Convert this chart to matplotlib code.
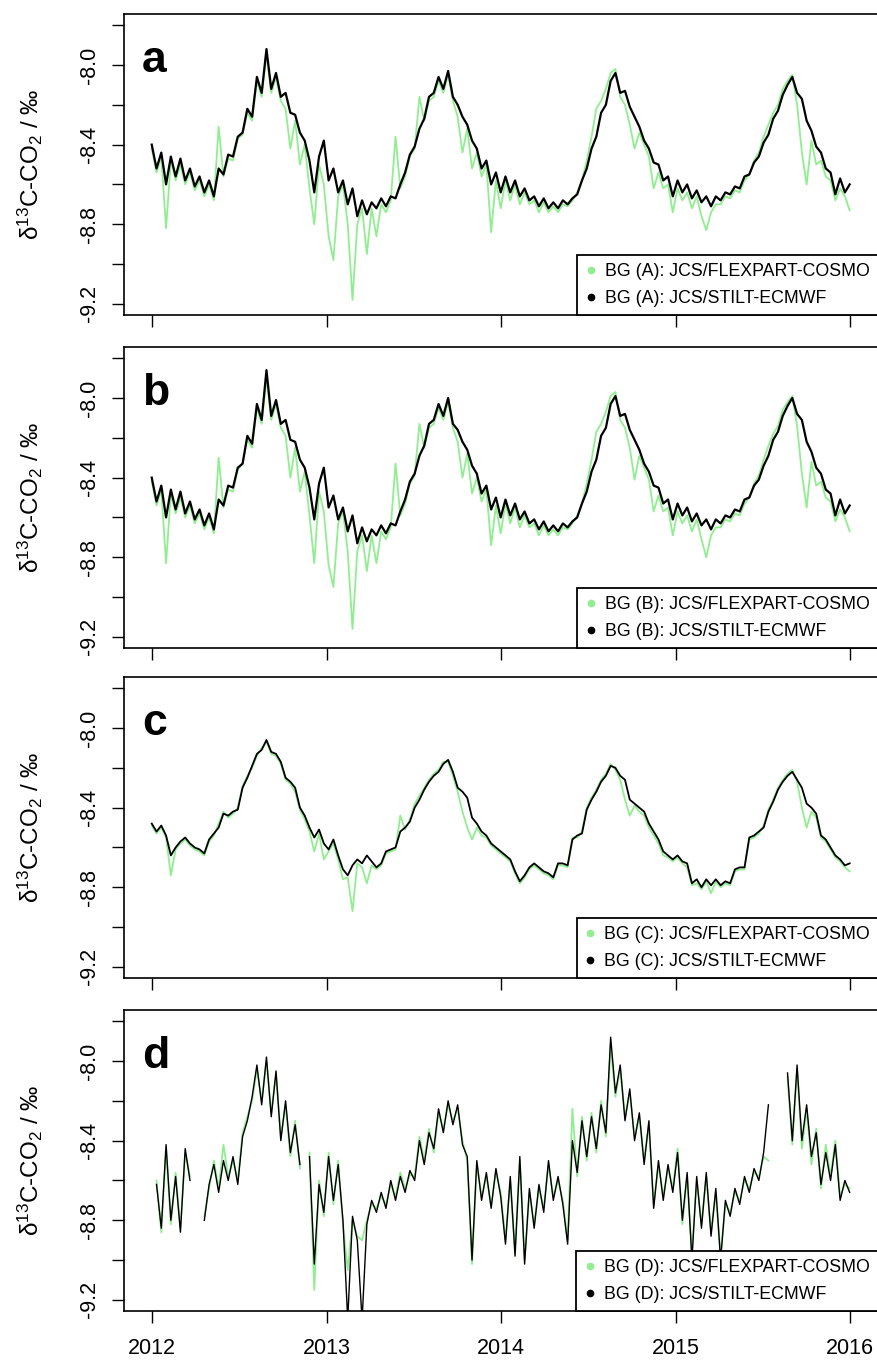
import numpy as np
import pandas as pd
import matplotlib
matplotlib.use("Agg")
import matplotlib.pyplot as plt
from matplotlib.lines import Line2D

plt.rcParams['font.family'] = ['Liberation Sans', 'DejaVu Sans']
plt.rcParams['mathtext.fontset'] = 'custom'
plt.rcParams['mathtext.rm'] = 'Liberation Sans'
plt.rcParams['mathtext.it'] = 'Liberation Sans:italic'

# 10-day samples, 2012-01-01 .. 2016-01-01
dates = pd.date_range('2012-01-01', periods=147, freq='10D')

a_stilt = [-8.40, -8.52, -8.44, -8.60, -8.46, -8.56, -8.47, -8.58, -8.52, -8.61,
           -8.56, -8.64, -8.58, -8.66, -8.52, -8.55, -8.45, -8.46, -8.36, -8.34,
           -8.22, -8.26, -8.06, -8.14, -7.92, -8.12, -8.04, -8.16, -8.14, -8.24,
           -8.25, -8.34, -8.38, -8.48, -8.64, -8.46, -8.38, -8.58, -8.52, -8.64,
           -8.58, -8.70, -8.62, -8.76, -8.68, -8.75, -8.69, -8.72, -8.67, -8.71,
           -8.66, -8.67, -8.60, -8.54, -8.45, -8.41, -8.32, -8.27, -8.16, -8.14,
           -8.06, -8.12, -8.03, -8.16, -8.20, -8.26, -8.30, -8.38, -8.42, -8.52,
           -8.48, -8.60, -8.54, -8.64, -8.56, -8.64, -8.58, -8.66, -8.62, -8.68,
           -8.66, -8.71, -8.67, -8.72, -8.69, -8.72, -8.68, -8.70, -8.67, -8.65,
           -8.58, -8.52, -8.42, -8.36, -8.24, -8.20, -8.08, -8.04, -8.14, -8.13,
           -8.21, -8.26, -8.31, -8.38, -8.42, -8.49, -8.50, -8.58, -8.56, -8.66,
           -8.58, -8.64, -8.60, -8.67, -8.63, -8.69, -8.66, -8.71, -8.66, -8.68,
           -8.64, -8.65, -8.61, -8.62, -8.56, -8.55, -8.49, -8.46, -8.39, -8.35,
           -8.27, -8.23, -8.15, -8.10, -8.06, -8.14, -8.17, -8.28, -8.33, -8.41,
           -8.44, -8.52, -8.54, -8.65, -8.57, -8.64, -8.60]
a_flex = [-8.42, -8.54, -8.46, -8.82, -8.48, -8.58, -8.50, -8.60, -8.54, -8.63,
          -8.58, -8.66, -8.60, -8.68, -8.31, -8.56, -8.47, -8.48, -8.37, -8.35,
          -8.24, -8.28, -8.08, -8.16, -7.95, -8.14, -8.06, -8.18, -8.22, -8.42,
          -8.28, -8.50, -8.40, -8.62, -8.80, -8.50, -8.60, -8.86, -8.98, -8.66,
          -8.60, -8.80, -9.18, -8.80, -8.72, -8.95, -8.72, -8.86, -8.70, -8.74,
          -8.68, -8.36, -8.62, -8.56, -8.46, -8.42, -8.16, -8.28, -8.18, -8.16,
          -8.08, -8.14, -8.05, -8.18, -8.26, -8.44, -8.32, -8.52, -8.44, -8.56,
          -8.50, -8.84, -8.58, -8.72, -8.58, -8.68, -8.60, -8.70, -8.64, -8.70,
          -8.68, -8.74, -8.69, -8.74, -8.71, -8.74, -8.70, -8.71, -8.68, -8.64,
          -8.58, -8.48, -8.36, -8.22, -8.18, -8.12, -8.04, -8.02, -8.16, -8.20,
          -8.30, -8.42, -8.34, -8.40, -8.46, -8.62, -8.54, -8.62, -8.60, -8.74,
          -8.62, -8.68, -8.64, -8.72, -8.66, -8.76, -8.83, -8.74, -8.70, -8.70,
          -8.66, -8.67, -8.63, -8.64, -8.58, -8.55, -8.48, -8.44, -8.36, -8.30,
          -8.24, -8.20, -8.12, -8.08, -8.05, -8.20, -8.44, -8.60, -8.38, -8.50,
          -8.48, -8.56, -8.58, -8.68, -8.62, -8.66, -8.73]

b_stilt = [-8.40, -8.52, -8.44, -8.60, -8.46, -8.56, -8.47, -8.58, -8.52, -8.61,
           -8.56, -8.64, -8.58, -8.66, -8.51, -8.54, -8.44, -8.45, -8.35, -8.33,
           -8.19, -8.23, -8.03, -8.11, -7.86, -8.09, -8.01, -8.13, -8.11, -8.21,
           -8.22, -8.31, -8.35, -8.45, -8.61, -8.43, -8.35, -8.55, -8.49, -8.61,
           -8.55, -8.67, -8.59, -8.73, -8.65, -8.72, -8.66, -8.69, -8.64, -8.68,
           -8.63, -8.64, -8.57, -8.51, -8.42, -8.38, -8.29, -8.24, -8.13, -8.11,
           -8.03, -8.09, -8.00, -8.13, -8.16, -8.22, -8.26, -8.34, -8.38, -8.48,
           -8.44, -8.56, -8.50, -8.60, -8.51, -8.59, -8.53, -8.61, -8.57, -8.63,
           -8.61, -8.66, -8.62, -8.67, -8.64, -8.67, -8.63, -8.65, -8.62, -8.60,
           -8.53, -8.47, -8.37, -8.31, -8.19, -8.15, -8.03, -7.99, -8.09, -8.08,
           -8.16, -8.21, -8.26, -8.33, -8.37, -8.44, -8.45, -8.53, -8.51, -8.61,
           -8.53, -8.59, -8.55, -8.62, -8.58, -8.64, -8.61, -8.66, -8.61, -8.63,
           -8.59, -8.60, -8.56, -8.57, -8.51, -8.50, -8.44, -8.41, -8.34, -8.29,
           -8.21, -8.17, -8.09, -8.04, -8.00, -8.08, -8.11, -8.22, -8.27, -8.35,
           -8.38, -8.46, -8.48, -8.59, -8.51, -8.58, -8.54]
b_flex = [-8.42, -8.54, -8.46, -8.83, -8.48, -8.58, -8.50, -8.60, -8.54, -8.63,
          -8.58, -8.66, -8.60, -8.68, -8.30, -8.55, -8.46, -8.47, -8.36, -8.33,
          -8.21, -8.25, -8.05, -8.13, -7.90, -8.11, -8.03, -8.15, -8.19, -8.40,
          -8.25, -8.47, -8.37, -8.59, -8.83, -8.47, -8.57, -8.84, -8.95, -8.63,
          -8.57, -8.77, -9.16, -8.77, -8.69, -8.87, -8.69, -8.83, -8.67, -8.71,
          -8.65, -8.33, -8.59, -8.53, -8.43, -8.39, -8.13, -8.25, -8.15, -8.13,
          -8.05, -8.11, -8.02, -8.15, -8.22, -8.40, -8.28, -8.48, -8.40, -8.52,
          -8.46, -8.74, -8.54, -8.68, -8.53, -8.63, -8.55, -8.65, -8.59, -8.65,
          -8.63, -8.69, -8.64, -8.69, -8.66, -8.69, -8.65, -8.66, -8.63, -8.59,
          -8.53, -8.43, -8.31, -8.17, -8.13, -8.07, -7.99, -7.97, -8.11, -8.15,
          -8.25, -8.41, -8.29, -8.35, -8.41, -8.57, -8.49, -8.57, -8.55, -8.69,
          -8.57, -8.63, -8.59, -8.67, -8.61, -8.71, -8.80, -8.69, -8.65, -8.65,
          -8.61, -8.62, -8.58, -8.59, -8.53, -8.50, -8.43, -8.39, -8.31, -8.24,
          -8.18, -8.14, -8.06, -8.02, -7.99, -8.14, -8.38, -8.55, -8.32, -8.44,
          -8.42, -8.50, -8.52, -8.62, -8.56, -8.60, -8.67]

c_stilt = [-8.48, -8.52, -8.49, -8.54, -8.64, -8.60, -8.57, -8.55, -8.58, -8.60,
           -8.61, -8.63, -8.56, -8.53, -8.50, -8.43, -8.44, -8.42, -8.41, -8.30,
           -8.25, -8.19, -8.13, -8.11, -8.06, -8.12, -8.13, -8.17, -8.25, -8.27,
           -8.30, -8.40, -8.44, -8.50, -8.55, -8.51, -8.58, -8.61, -8.56, -8.64,
           -8.71, -8.74, -8.69, -8.66, -8.68, -8.64, -8.67, -8.70, -8.68, -8.62,
           -8.61, -8.60, -8.52, -8.50, -8.47, -8.40, -8.36, -8.31, -8.27, -8.24,
           -8.22, -8.18, -8.16, -8.22, -8.30, -8.32, -8.35, -8.45, -8.48, -8.52,
           -8.54, -8.58, -8.60, -8.62, -8.64, -8.66, -8.72, -8.77, -8.74, -8.70,
           -8.68, -8.70, -8.72, -8.73, -8.75, -8.68, -8.68, -8.69, -8.56, -8.54,
           -8.53, -8.41, -8.36, -8.32, -8.27, -8.24, -8.19, -8.20, -8.24, -8.26,
           -8.36, -8.38, -8.40, -8.42, -8.48, -8.52, -8.56, -8.62, -8.64, -8.66,
           -8.64, -8.67, -8.68, -8.78, -8.76, -8.80, -8.76, -8.79, -8.76, -8.79,
           -8.77, -8.78, -8.71, -8.70, -8.70, -8.55, -8.54, -8.52, -8.50, -8.42,
           -8.37, -8.31, -8.27, -8.24, -8.22, -8.26, -8.30, -8.38, -8.40, -8.43,
           -8.54, -8.56, -8.60, -8.64, -8.66, -8.69, -8.68]
c_flex = [-8.49, -8.53, -8.50, -8.55, -8.74, -8.61, -8.58, -8.56, -8.59, -8.61,
          -8.62, -8.64, -8.57, -8.54, -8.48, -8.42, -8.45, -8.43, -8.40, -8.29,
          -8.24, -8.20, -8.14, -8.10, -8.07, -8.13, -8.14, -8.18, -8.26, -8.28,
          -8.32, -8.41, -8.46, -8.52, -8.62, -8.53, -8.66, -8.62, -8.58, -8.66,
          -8.76, -8.75, -8.92, -8.68, -8.70, -8.78, -8.69, -8.71, -8.69, -8.63,
          -8.62, -8.61, -8.44, -8.51, -8.46, -8.38, -8.34, -8.30, -8.26, -8.23,
          -8.21, -8.17, -8.17, -8.24, -8.32, -8.42, -8.50, -8.56, -8.50, -8.54,
          -8.55, -8.59, -8.61, -8.63, -8.65, -8.67, -8.73, -8.78, -8.75, -8.71,
          -8.69, -8.71, -8.73, -8.74, -8.76, -8.69, -8.69, -8.70, -8.55, -8.55,
          -8.52, -8.40, -8.35, -8.31, -8.26, -8.23, -8.18, -8.21, -8.26, -8.36,
          -8.44, -8.39, -8.42, -8.44, -8.50, -8.54, -8.58, -8.64, -8.65, -8.67,
          -8.65, -8.68, -8.70, -8.79, -8.78, -8.81, -8.77, -8.83, -8.77, -8.80,
          -8.78, -8.79, -8.72, -8.71, -8.71, -8.56, -8.55, -8.53, -8.49, -8.41,
          -8.36, -8.30, -8.26, -8.23, -8.21, -8.27, -8.40, -8.50, -8.42, -8.45,
          -8.55, -8.57, -8.61, -8.65, -8.67, -8.70, -8.72]

d_stilt = [None, -8.62, -8.84, -8.42, -8.80, -8.58, -8.86, -8.44, -8.60, None,
           None, -8.80, -8.62, -8.52, -8.66, -8.50, -8.60, -8.48, -8.62, -8.38,
           -8.30, -8.18, -8.02, -8.22, -7.98, -8.28, -8.05, -8.40, -8.20, -8.46,
           -8.32, -8.52, None, -8.48, -9.02, -8.62, -8.76, -8.48, -8.70, -8.52,
           -8.80, -9.30, -8.78, -8.90, -9.30, -8.82, -8.70, -8.76, -8.66, -8.74,
           -8.60, -8.70, -8.58, -8.66, -8.55, -8.60, -8.40, -8.52, -8.36, -8.44,
           -8.24, -8.36, -8.20, -8.32, -8.22, -8.42, -8.48, -9.00, -8.50, -8.70,
           -8.56, -8.74, -8.54, -8.68, -8.92, -8.58, -8.98, -8.48, -9.02, -8.64,
           -8.84, -8.62, -8.76, -8.50, -8.70, -8.58, -8.72, -8.92, -8.40, -8.56,
           -8.30, -8.48, -8.28, -8.44, -8.22, -8.36, -7.88, -8.16, -8.02, -8.30,
           -8.14, -8.40, -8.26, -8.52, -8.30, -8.74, -8.50, -8.70, -8.52, -8.66,
           -8.46, -8.80, -8.56, -9.00, -8.58, -8.84, -8.56, -8.88, -8.64, -9.00,
           -8.70, -8.78, -8.64, -8.72, -8.58, -8.66, -8.54, -8.60, -8.46, -8.22,
           None, None, None, -8.06, -8.40, -8.02, -8.40, -8.22, -8.48, -8.36,
           -8.62, -8.46, -8.60, -8.42, -8.70, -8.60, -8.66]
d_flex = [None, -8.60, -8.86, -8.44, -8.82, -8.56, -8.84, -8.46, -8.58, None,
          None, -8.78, -8.64, -8.50, -8.64, -8.42, -8.58, -8.50, -8.60, -8.36,
          -8.28, -8.20, -8.04, -8.20, -8.00, -8.26, -8.07, -8.38, -8.22, -8.48,
          -8.30, -8.54, None, -8.46, -9.15, -8.60, -8.78, -8.46, -8.72, -8.50,
          -8.82, -9.05, -8.80, -8.88, -8.90, -8.80, -8.72, -8.74, -8.68, -8.72,
          -8.62, -8.68, -8.56, -8.64, -8.57, -8.58, -8.38, -8.50, -8.34, -8.46,
          -8.26, -8.34, -8.22, -8.30, -8.24, -8.40, -8.50, -9.02, -8.52, -8.68,
          -8.58, -8.72, -8.56, -8.66, -8.90, -8.60, -8.96, -8.50, -9.00, -8.66,
          -8.82, -8.64, -8.74, -8.52, -8.68, -8.60, -8.70, -8.90, -8.24, -8.58,
          -8.28, -8.50, -8.26, -8.46, -8.20, -8.38, -7.92, -8.18, -8.04, -8.28,
          -8.16, -8.38, -8.28, -8.50, -8.32, -8.72, -8.52, -8.68, -8.54, -8.64,
          -8.44, -8.82, -8.58, -8.96, -8.60, -8.82, -8.58, -8.86, -8.66, -8.98,
          -8.72, -8.76, -8.66, -8.70, -8.60, -8.64, -8.56, -8.58, -8.48, -8.50,
          None, None, None, -8.08, -8.42, -8.04, -8.44, -8.24, -8.52, -8.34,
          -8.64, -8.42, -8.58, -8.40, -8.68, -8.62, -8.64]

panels = [('a', 'A', a_flex, a_stilt),
          ('b', 'B', b_flex, b_stilt),
          ('c', 'C', c_flex, c_stilt),
          ('d', 'D', d_flex, d_stilt)]

year_ticks = pd.to_datetime(['2012-01-01', '2013-01-01', '2014-01-01',
                             '2015-01-01', '2016-01-01'])
year_labels = ['2012', '2013', '2014', '2015', '2016']
y_ticks = [-9.2, -9.0, -8.8, -8.6, -8.4, -8.2, -8.0, -7.8]
y_labels = ['-9.2', '', '-8.8', '', '-8.4', '', '-8.0', '']

green = '#90EE90'
bottoms = [0.7687, 0.5242, 0.2819, 0.0374]
black_lw = [1.6, 1.6, 1.3, 1.0]
pad = pd.Timedelta(days=58)

fig = plt.figure(figsize=(8.77, 13.62), dpi=100)

for k, (letter, bg, flex, stilt) in enumerate(panels):
    ax = fig.add_axes([0.1414, bottoms[k], 0.8596, 0.2210])
    ax.plot(dates, np.array(flex, dtype=float), color=green, lw=1.3)
    ax.plot(dates, np.array(stilt, dtype=float), color='black', lw=black_lw[k])
    ax.set_xlim(dates[0] - pad, pd.Timestamp('2016-01-01') + pad)
    ax.set_ylim(-9.256, -7.744)

    ax.set_yticks(y_ticks)
    ax.set_yticklabels(y_labels, rotation=90, va='center')
    ax.set_xticks(year_ticks)
    ax.set_xticklabels(year_labels)
    ax.tick_params(axis='both', length=8.5, width=1.0, labelsize=15.5)
    ax.tick_params(axis='y', pad=9)
    ax.tick_params(axis='x', pad=11, labelbottom=(k == 3))
    for s in ax.spines.values():
        s.set_linewidth(1.2)

    ax.text(0.024, 0.807, letter, transform=ax.transAxes, fontsize=32,
            fontweight='bold', ha='left', va='baseline')
    ax.text(-0.1247, 0.5, r'δ$^{13}$C-CO$_2$ / ‰', transform=ax.transAxes,
            rotation=90, ha='center', va='center', fontsize=17.5)

    handles = [Line2D([], [], marker='o', color=green, ls='none', markersize=4.5),
               Line2D([], [], marker='o', color='black', ls='none', markersize=4.5)]
    labels = ['BG (%s): JCS/FLEXPART-COSMO' % bg, 'BG (%s): JCS/STILT-ECMWF' % bg]
    leg = ax.legend(handles, labels, loc='lower right', bbox_to_anchor=(1.0, 0.0),
                    borderaxespad=0, frameon=True, fancybox=False, framealpha=1,
                    edgecolor='black', fontsize=12.8, handlelength=0.6,
                    handletextpad=0.5, borderpad=0.45, labelspacing=0.55)
    leg.get_frame().set_linewidth(1.3)

fig.savefig('out.png', dpi=100)
